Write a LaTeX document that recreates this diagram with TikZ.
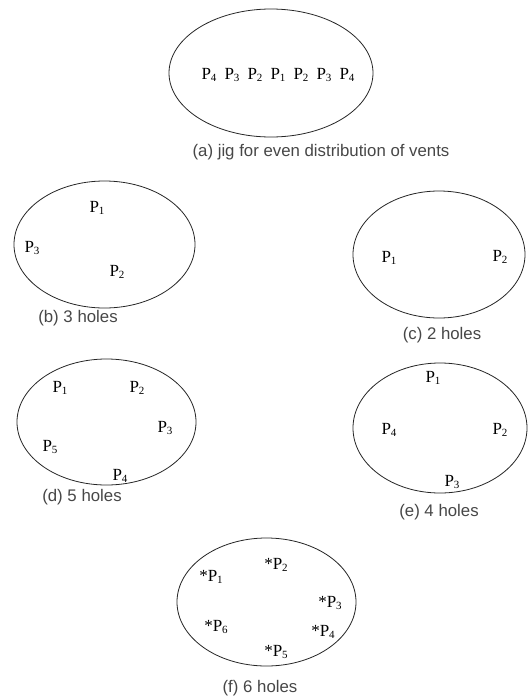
\documentclass[tikz,border=0pt]{standalone}
\usepackage{fontspec}
\setmainfont{Liberation Serif}
\newfontfamily\labfont{Liberation Sans}
\usetikzlibrary{shapes.geometric}
\tikzset{
  plate/.style={draw=black!85, line width=0.8pt, ellipse, inner sep=0pt},
  hole/.style={inner sep=0pt, text=black, font=\fontsize{17}{17}\selectfont},
  figcap/.style={inner sep=0pt, text=black!72, font=\labfont\fontsize{16.8}{17}\selectfont},
}
\newcommand{\hp}[1]{P\raisebox{-0.35ex}{\fontsize{11}{11}\selectfont #1}}
\begin{document}
\begin{tikzpicture}[x=1pt,y=-1pt]
\path[fill=white] (0,0) rectangle (529,697);
\useasboundingbox (0,0) rectangle (529,697);

% (a)
\node[plate, minimum width=204pt, minimum height=128pt] (ea) at (271,73) {};
\node[hole] (a1) at (209,75) {\hp{4}};
\node[hole] (a2) at (232,75) {\hp{3}};
\node[hole] (a3) at (255,75) {\hp{2}};
\node[hole] (a4) at (278,75) {\hp{1}};
\node[hole] (a5) at (301,75) {\hp{2}};
\node[hole] (a6) at (324,75) {\hp{3}};
\node[hole] (a7) at (347,75) {\hp{4}};
\node[figcap] (la) at (321,152) {(a) jig for even distribution of vents};

% (b)
\node[plate, minimum width=181pt, minimum height=127pt] (eb) at (104.5,244.5) {};
\node[hole] (b1) at (97,208) {\hp{1}};
\node[hole] (b3) at (32,248) {\hp{3}};
\node[hole] (b2) at (117,272) {\hp{2}};
\node[figcap] (lb) at (78,318) {(b) 3 holes};

% (c)
\node[plate, minimum width=172pt, minimum height=127pt] (ec) at (439,254.5) {};
\node[hole] (c1) at (389,258) {\hp{1}};
\node[hole] (c2) at (500,257) {\hp{2}};
\node[figcap] (lc) at (442,335) {(c) 2 holes};

% (d)
\node[plate, minimum width=179pt, minimum height=126pt] (ed) at (106.5,422) {};
\node[hole] (d1) at (60,388) {\hp{1}};
\node[hole] (d2) at (137,388) {\hp{2}};
\node[hole] (d3) at (165,428) {\hp{3}};
\node[hole] (d5) at (50,447) {\hp{5}};
\node[hole] (d4) at (120,476) {\hp{4}};
\node[figcap] (ld) at (82,497) {(d) 5 holes};

% (e)
\node[plate, minimum width=174pt, minimum height=130pt] (ee) at (440,428) {};
\node[hole] (e1) at (433,378) {\hp{1}};
\node[hole] (e4) at (389,430) {\hp{4}};
\node[hole] (e2) at (500,430) {\hp{2}};
\node[hole] (e3) at (452,482) {\hp{3}};
\node[figcap] (le) at (439,512) {(e) 4 holes};

% (f)
\node[plate, minimum width=179pt, minimum height=128pt] (ef) at (266.5,602) {};
\node[hole] (f1) at (211,577) {*\hp{1}};
\node[hole] (f2) at (276,565) {*\hp{2}};
\node[hole] (f3) at (330,603) {*\hp{3}};
\node[hole] (f4) at (323,632) {*\hp{4}};
\node[hole] (f5) at (276,652) {*\hp{5}};
\node[hole] (f6) at (216,627) {*\hp{6}};
\node[figcap] (lf) at (260,688) {(f) 6 holes};
\end{tikzpicture}
\end{document}
